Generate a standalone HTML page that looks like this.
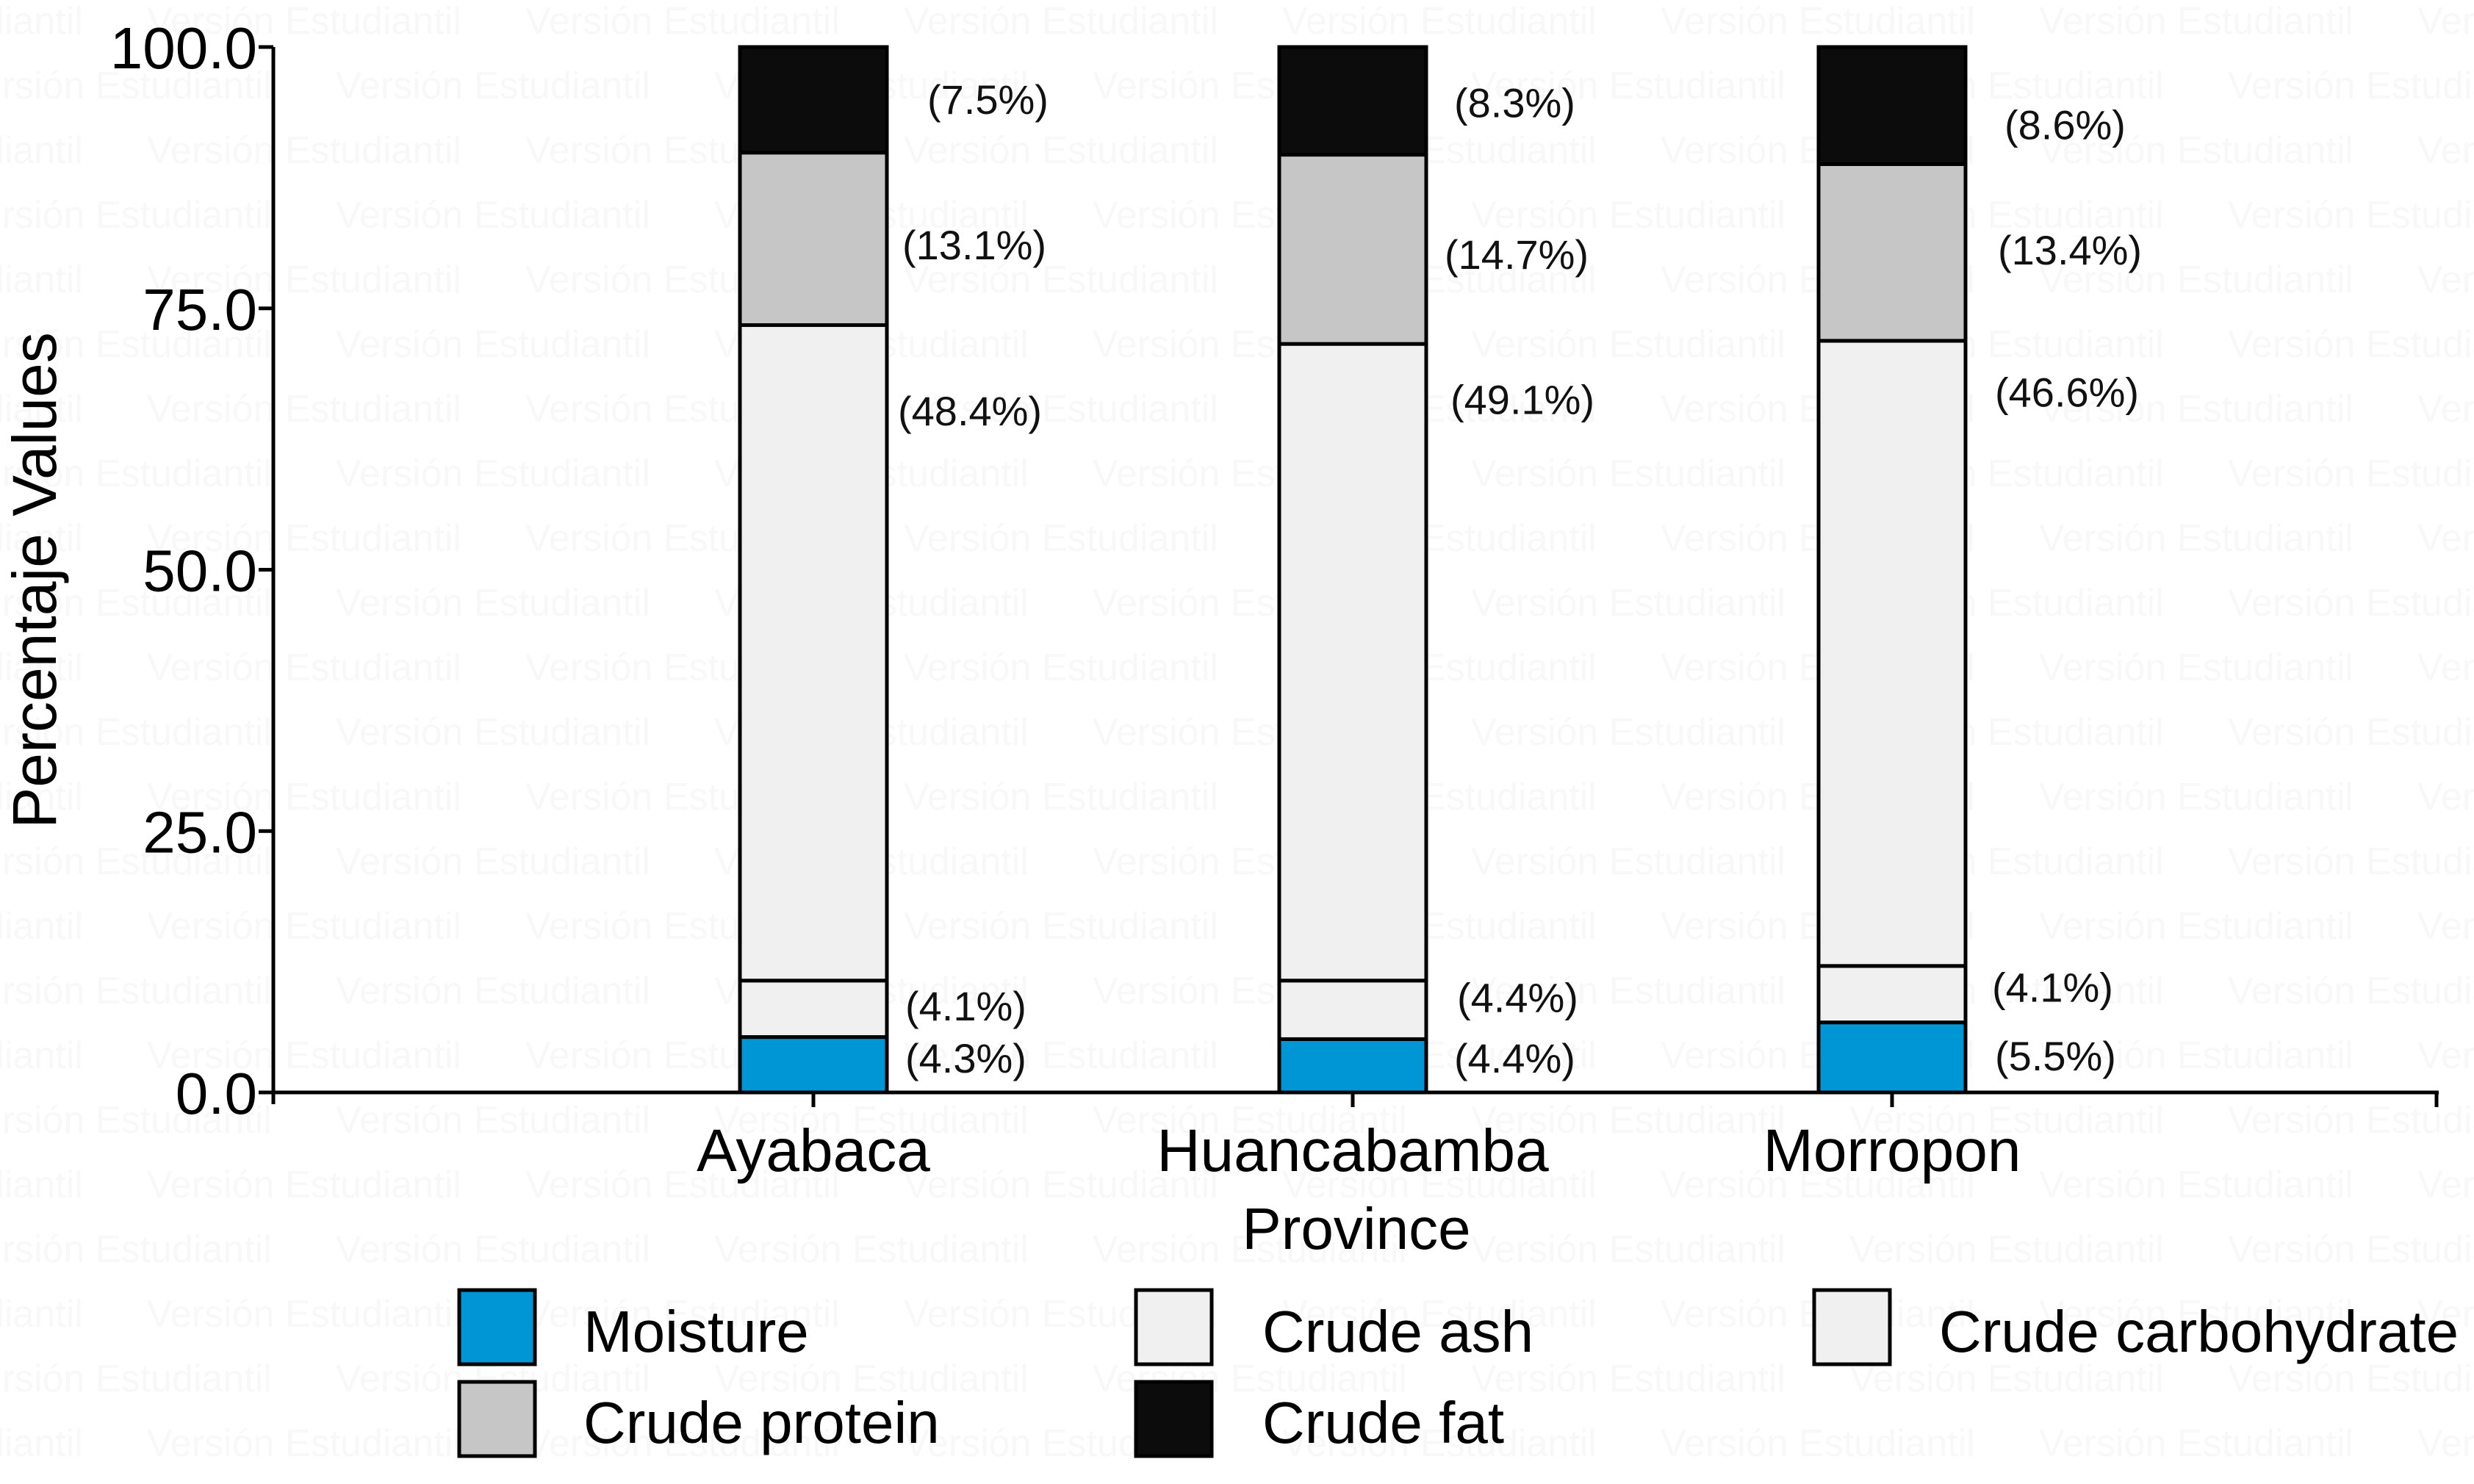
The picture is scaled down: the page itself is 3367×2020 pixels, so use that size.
<!DOCTYPE html>
<html><head><meta charset="utf-8"><style>
html,body{margin:0;padding:0;background:#fff;}
svg{display:block;font-family:"Liberation Sans",Arial,sans-serif;}
</style></head><body>
<svg id="chart" width="3367" height="2020" viewBox="0 0 3367 2020" xmlns="http://www.w3.org/2000/svg">
<g id="wm"></g>
<g id="plot"></g>
</svg>
<script>
const categories = ["Ayabaca", "Huancabamba", "Morropon"];
const seriesNames = ["Moisture", "Crude ash", "Crude carbohydrate", "Crude protein", "Crude fat"];
const moisture = [5.3, 5.1, 6.7];
const ash = [5.4, 5.6, 5.4];
const carbohydrate = [62.7, 60.9, 59.8];
const protein = [16.5, 18.1, 16.9];
const fat = [10.1, 10.3, 11.2];
const labelMoisture = ["(4.3%)", "(4.4%)", "(5.5%)"];
const labelAsh = ["(4.1%)", "(4.4%)", "(4.1%)"];
const labelCarb = ["(48.4%)", "(49.1%)", "(46.6%)"];
const labelProtein = ["(13.1%)", "(14.7%)", "(13.4%)"];
const labelFat = ["(7.5%)", "(8.3%)", "(8.6%)"];
// vertical position (in axis units) where each value label sits
const labelYMoisture = [3.3, 3.3, 3.5];
const labelYAsh = [8.3, 9.1, 10.1];
const labelYCarb = [65.2, 66.3, 67.0];
const labelYProtein = [81.1, 80.2, 80.6];
const labelYFat = [95.0, 94.7, 92.6];
const yTicks = [0, 25, 50, 75, 100];
const yTickLabels = ["0.0", "25.0", "50.0", "75.0", "100.0"];

const NS = "http://www.w3.org/2000/svg";
const X0 = 372, X1 = 3316, Y0 = 1487, Y100 = 64;
const catX = i => 1107 + i * 734;
const yS = v => Y0 - (v / 100) * (Y0 - Y100);
const BW = 200;
const colors = ["#0096d6", "#f0f0f0", "#f0f0f0", "#c6c6c6", "#0c0c0c"];
const series = [moisture, ash, carbohydrate, protein, fat];
const labels = [labelMoisture, labelAsh, labelCarb, labelProtein, labelFat];
const labelYs = [labelYMoisture, labelYAsh, labelYCarb, labelYProtein, labelYFat];
const labelDx = [[25,38,40],[25,42,36],[15,33,40],[21,25,44],[55,38,53]];

function el(tag, attrs, parent, text) {
  const e = document.createElementNS(NS, tag);
  for (const k in attrs) e.setAttribute(k, attrs[k]);
  if (text !== undefined) e.textContent = text;
  parent.appendChild(e);
  return e;
}

// watermark
const wm = document.getElementById('wm');
for (let r = 0; r < 23; r++) {
  const y = 46 + r * 88;
  const off = (r % 2 === 0) ? 200 : -58;
  for (let c = -1; c < 8; c++) {
    const t = el('text', {x: off + c * 515, y: y, 'font-size': 52, fill: '#f8f8f8'}, wm, 'Versión Estudiantil');
    
    
  }
}

const plot = document.getElementById('plot');
categories.forEach((cat, i) => {
  let base = 0;
  series.forEach((s, k) => {
    const top = base + s[i];
    const r = el('rect', {x: catX(i) - BW/2, y: yS(top), width: BW, height: yS(base) - yS(top), fill: colors[k], stroke: '#000', 'stroke-width': 5}, plot);
    
    
    const t = el('text', {x: catX(i) + BW/2 + labelDx[k][i], y: yS(labelYs[k][i]) + 20, 'font-size': 56, fill: '#111'}, plot, labels[k][i]);
    
    
    base = top;
  });
});

let a = el('line', {x1: X0, y1: Y100, x2: X0, y2: Y0 + 16, stroke: '#000', 'stroke-width': 5}, plot);


a = el('line', {x1: X0 - 20, y1: Y0, x2: X1 + 3, y2: Y0, stroke: '#000', 'stroke-width': 5}, plot);


yTicks.forEach((v, i) => {
  const tk = el('line', {x1: X0 - 20, y1: yS(v), x2: X0, y2: yS(v), stroke: '#000', 'stroke-width': 5}, plot);
  
  
  const t = el('text', {x: X0 - 22, y: yS(v) + 29, 'font-size': 80, 'text-anchor': 'end', fill: '#000'}, plot, yTickLabels[i]);
  
  
});
categories.forEach((cat, i) => {
  const tk = el('line', {x1: catX(i), y1: Y0, x2: catX(i), y2: Y0 + 20, stroke: '#000', 'stroke-width': 5}, plot);
  
  
  const t = el('text', {x: catX(i), y: 1594, 'font-size': 82, 'text-anchor': 'middle', fill: '#000'}, plot, cat);
  
  
});
const et = el('line', {x1: X1, y1: Y0, x2: X1, y2: Y0 + 20, stroke: '#000', 'stroke-width': 5}, plot);



let tt = el('text', {x: 1846, y: 1700, 'font-size': 80, 'text-anchor': 'middle', fill: '#000'}, plot, 'Province');


tt = el('text', {x: 0, y: 0, 'font-size': 84, 'text-anchor': 'middle', fill: '#000', transform: 'translate(76,790) rotate(-90)'}, plot, 'Percentaje Values');



const legendItems = [
  ["Moisture", 0, 625, 1756, 794, 1840],
  ["Crude ash", 1, 1546, 1756, 1718, 1840],
  ["Crude carbohydrate", 2, 2469, 1756, 2639, 1840],
  ["Crude protein", 3, 625, 1881, 794, 1964],
  ["Crude fat", 4, 1546, 1881, 1718, 1964]
];
legendItems.forEach(it => {
  const r = el('rect', {x: it[2], y: it[3], width: 103, height: 101, fill: colors[it[1]], stroke: '#000', 'stroke-width': 5}, plot);
  
  
  const t = el('text', {x: it[4], y: it[5], 'font-size': 80, fill: '#000'}, plot, it[0]);
  
  
});
</script>
</body></html>
